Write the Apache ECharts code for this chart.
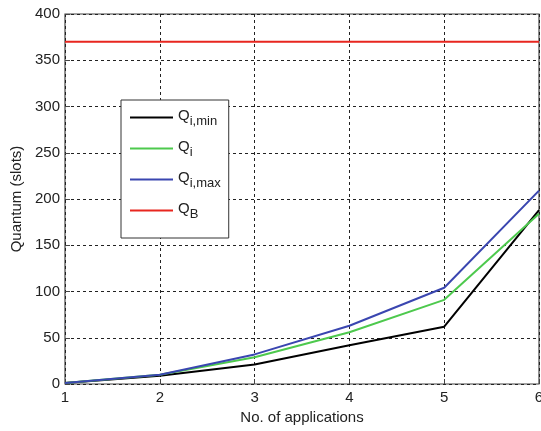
<!DOCTYPE html>
<html>
<head>
<meta charset="utf-8">
<script src="https://cdn.jsdelivr.net/npm/echarts@6/dist/echarts.min.js"></script>
<style>
  html, body { margin: 0; padding: 0; background: #fff; }
  #chart { width: 541px; height: 431px; }
</style>
</head>
<body>
<div id="chart"></div>
<script>
window.addEventListener("load", () => {
    // data
    const apps = [1, 2, 3, 4, 5, 6]
    const qMin = [1, 9, 21, 42, 62, 188]
    const qMid = [1, 10, 29, 56, 91, 184]
    const qMax = [1, 10, 32, 63, 104, 209]
    const qB = [370, 370, 370, 370, 370, 370]
    const names = ["Qi,min", "Qi", "Qi,max", "QB"]
    const subs = { "Qi,min": "i,min", "Qi": "i", "Qi,max": "i,max", "QB": "B" }
    const colors = ["#000000", "#4dc94d", "#3a46b0", "#e8261f"]

    const font = "Liberation Sans, Arial, sans-serif"
    const pairs = arr => apps.map((a, i) => [a, arr[i]])

    let option = {
        backgroundColor: "#fff",
        animation: false,
        grid: {
            left: 65, right: 2, top: 14, bottom: 47,
            outerBoundsMode: "none",
            show: true, borderColor: "#444", borderWidth: 1.2
        },
        legend: {
            orient: "vertical",
            left: 121, top: 100,
            padding: [7, 8, 17, 9],
            itemGap: 10,
            icon: "rect",
            itemWidth: 43, itemHeight: 2,
            backgroundColor: "#fff",
            borderColor: "#333", borderWidth: 1,
            data: names,
            formatter: n => "{m|Q}{s|" + subs[n] + "}",
            textStyle: {
                fontFamily: font,
                rich: {
                    m: { fontSize: 15, lineHeight: 21, color: "#222", fontFamily: font, padding: [0, 0, 4, 0] },
                    s: { fontSize: 13, lineHeight: 21, color: "#222", fontFamily: font, padding: [8, 0, 0, 0] }
                }
            }
        },
        xAxis: {
            type: "value",
            min: 1, max: 6, interval: 1,
            name: "No. of applications",
            nameLocation: "middle", nameGap: 21,
            nameTextStyle: { fontFamily: font, fontSize: 15, color: "#222" },
            axisLine: { show: false },
            axisTick: { inside: true, length: 5, lineStyle: { color: "#444" } },
            axisLabel: { fontFamily: font, fontSize: 15, color: "#222", margin: 6 },
            splitLine: { lineStyle: { color: "#222", type: [3, 3], width: 1 } }
        },
        yAxis: {
            type: "value",
            min: 0, max: 400, interval: 50,
            name: "Quantum (slots)",
            nameLocation: "middle", nameGap: 39,
            nameTextStyle: { fontFamily: font, fontSize: 15, color: "#222" },
            axisLine: { show: false },
            axisTick: { inside: true, length: 5, lineStyle: { color: "#444" } },
            axisLabel: { fontFamily: font, fontSize: 15, color: "#222", margin: 5 },
            splitLine: { lineStyle: { color: "#222", type: [3, 3], width: 1 } }
        },
        series: [
            { name: names[0], type: "line", symbol: "none", data: pairs(qMin), color: colors[0], lineStyle: { width: 2 } },
            { name: names[1], type: "line", symbol: "none", data: pairs(qMid), color: colors[1], lineStyle: { width: 2 } },
            { name: names[2], type: "line", symbol: "none", data: pairs(qMax), color: colors[2], lineStyle: { width: 2 } },
            { name: names[3], type: "line", symbol: "none", data: pairs(qB), color: colors[3], lineStyle: { width: 2 } }
        ]
    };

    echarts.init(document.getElementById("chart")).setOption(option);
})
</script>
</body>
</html>
